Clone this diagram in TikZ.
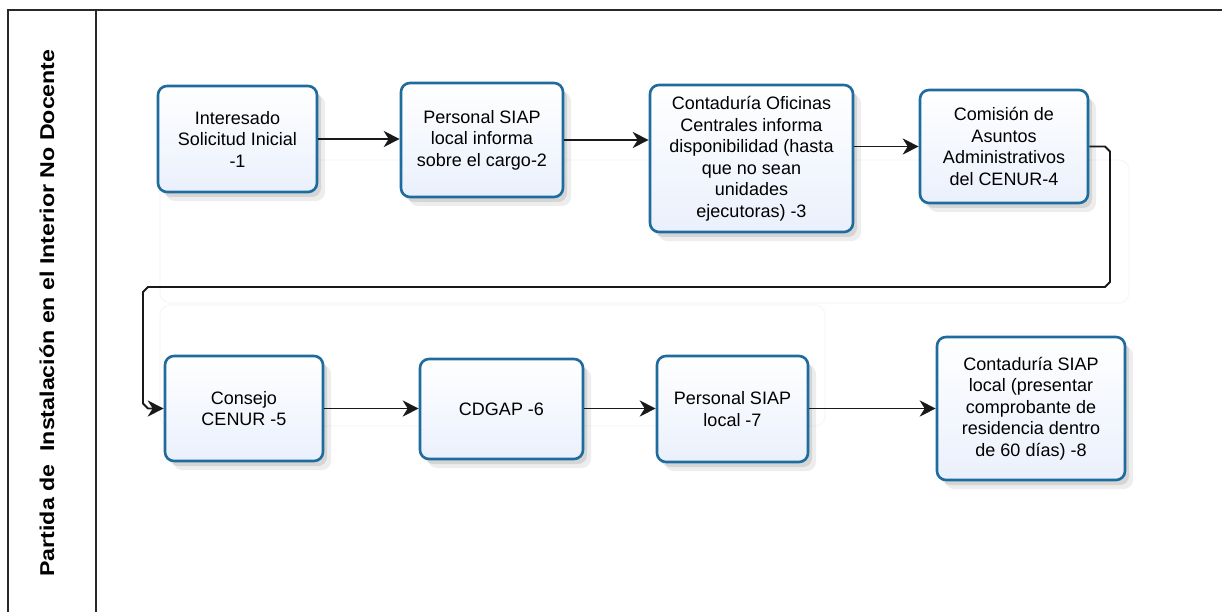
\documentclass[tikz,border=0pt]{standalone}
\usepackage{fontspec}
\setmainfont{Liberation Sans}
\usetikzlibrary{arrows.meta,shadows,calc}
\definecolor{boxedge}{RGB}{30,108,158}
\definecolor{boxfill}{RGB}{234,240,252}
\definecolor{framecol}{RGB}{40,40,40}
\tikzset{
  stepbox/.style={draw=boxedge, line width=2.6pt, rounded corners=9pt,
    top color=white, bottom color=boxfill,
    drop shadow={shadow xshift=4pt, shadow yshift=-5pt, opacity=0.10, fill=black},
    drop shadow={shadow xshift=8pt, shadow yshift=-9pt, opacity=0.07, fill=black},
    align=center, inner sep=4pt,
    font=\fontsize{18}{21.5}\selectfont},
  conn/.style={draw=black!90, line width=1.8pt,
    -{Stealth[length=16pt,width=16pt,inset=5pt]}},
  framel/.style={draw=framecol, line width=2.2pt},
  faint/.style={draw=black!3, line width=1.2pt, rounded corners=10pt}
}
\begin{document}
\begin{tikzpicture}[x=1pt,y=-1pt]
\useasboundingbox (0,0) rectangle (1222,612);
% frame
\draw[framel] (8,612) -- (8,10) -- (1222,10);
\draw[framel] (96,10) -- (96,612);
\node[rotate=90, font=\fontsize{20}{24}\bfseries\selectfont] (title) at (47,313)
  {\scalebox{1.16}[1]{Partida de\ \ Instalación en el Interior No Docente}};
% faint background shapes
\draw[faint] (160,160) rectangle (1129,303);
\draw[faint] (160,305) rectangle (825,426);
% top row
\node[stepbox, minimum width=159pt, minimum height=106pt] (B1) at (237.5,139)
  {Interesado\\Solicitud Inicial\\-1};
\node[stepbox, minimum width=162pt, minimum height=114pt] (B2) at (482,140)
  {Personal SIAP\\local informa\\sobre el cargo-2};
\node[stepbox, minimum width=203pt, minimum height=147pt] (B3) at (751.5,158.5)
  {Contaduría Oficinas\\Centrales informa\\disponibilidad (hasta\\que no sean\\unidades\\ejecutoras) -3};
\node[stepbox, minimum width=168pt, minimum height=113pt] (B4) at (1004,146.5)
  {Comisión de\\Asuntos\\Administrativos\\del CENUR-4};
% bottom row
\node[stepbox, minimum width=158pt, minimum height=105pt] (B5) at (244,408.5)
  {Consejo\\CENUR -5};
\node[stepbox, minimum width=163pt, minimum height=100pt] (B6) at (501.5,409)
  {CDGAP -6};
\node[stepbox, minimum width=151pt, minimum height=106pt] (B7) at (732.5,409)
  {Personal SIAP\\local -7};
\node[stepbox, minimum width=188pt, minimum height=143pt] (B8) at (1031,408.5)
  {Contaduría SIAP\\local (presentar\\comprobante de\\residencia dentro\\de 60 días) -8};
% connectors
\draw[conn] (B1.east) -- (B1.east -| B2.west);
\draw[conn] (B2.east) -- (B2.east -| B3.west);
\draw[conn] (B4.west -| B3.east) -- (B4.west);
\draw[conn] (B4.east) -- (1105,146.5) -- (1110,151.5) -- (1110,282) -- (1105,287)
  -- (148,287) -- (143,292) -- (143,403.5) -- (148,408.5) -- (B5.west);
\draw[conn] (B5.east) -- (B5.east -| B6.west);
\draw[conn] (B6.east |- B5.east) -- (B5.east -| B7.west);
\draw[conn] (B7.east |- B5.east) -- (B8.west);
\end{tikzpicture}
\end{document}
